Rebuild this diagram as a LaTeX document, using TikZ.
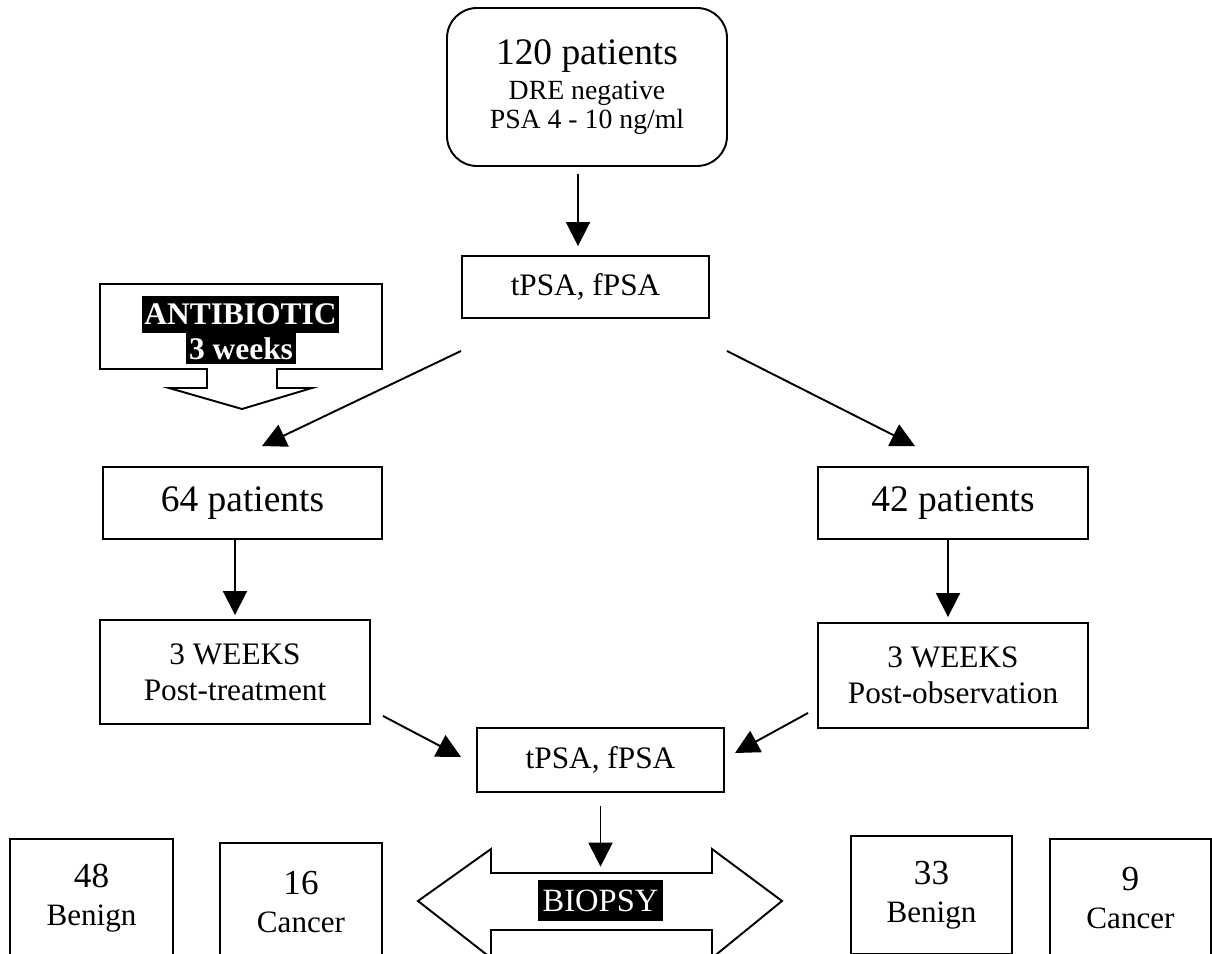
\documentclass[tikz,border=0pt]{standalone}
\usepackage{fontspec}
\setmainfont{Liberation Serif}
\usepackage{tikz}
\usetikzlibrary{arrows.meta}

\begin{document}
\begin{tikzpicture}[
    box/.style={draw,line width=1.1pt,align=center,inner sep=2pt},
    arr/.style={-{Triangle[length=0.48cm,width=0.48cm]},line width=1.1pt},
    hl/.style={fill=black,text=white,inner ysep=0pt,inner xsep=1.5pt},
    big/.style={font={\fontsize{21.3}{24}\selectfont}},
    mid/.style={font={\fontsize{17.8}{20.4}\selectfont}},
    res/.style={box,minimum height=2.36cm,font={\fontsize{17.7}{21.5}\selectfont}}]
              \useasboundingbox (0,0) rectangle (24.24,-19.08);
              \clip (0,0) rectangle (24.24,-19.08);
              \node[box,rounded corners=0.6cm,minimum width=5.6cm,minimum height=3.16cm,font={\fontsize{15.8}{16.4}\selectfont}](top)at(11.74,-1.74){{\fontsize{21.3}{24}\selectfont 120 patients}\\[4pt]DRE negative\\PSA 4 - 10 ng/ml};
              \node[box,mid,minimum width=4.94cm,minimum height=1.24cm](tpsa1)at(11.71,-5.74){tPSA, fPSA};
              \draw[line width=1.1pt] (2.00,-5.68) -- (7.64,-5.68) -- (7.64,-7.38) -- (5.54,-7.38) -- (5.54,-7.76) -- (6.24,-7.76) -- (4.84,-8.18) -- (3.38,-7.76) -- (4.14,-7.76) -- (4.14,-7.38) -- (2.00,-7.38) -- cycle;
              \node[hl,minimum height=0.74cm,font={\bfseries\fontsize{17.9}{20}\selectfont}](anti1)at(4.81,-6.29){ANTIBIOTIC};
              \node[hl,minimum height=0.62cm,font={\bfseries\fontsize{17.9}{20}\selectfont}](anti2)at(4.82,-6.97){3 weeks};
              \node[box,big,minimum width=5.58cm,minimum height=1.44cm](pat64)at(4.85,-10.06){64 patients};
              \node[box,big,minimum width=5.4cm,minimum height=1.44cm](pat42)at(19.06,-10.06){42 patients};
              \node[box,mid,minimum width=5.4cm,minimum height=2.08cm](posttr)at(4.70,-13.44){3 WEEKS\\Post-treatment};
              \node[box,mid,minimum width=5.4cm,minimum height=2.10cm](postobs)at(19.06,-13.51){3 WEEKS\\Post-observation};
              \node[box,mid,minimum width=4.94cm,minimum height=1.28cm](tpsa2)at(12.01,-15.2){tPSA, fPSA};
              \draw[line width=1.1pt] (8.36,-18.02) -- (9.82,-16.98) -- (9.82,-17.46) -- (14.24,-17.46) -- (14.24,-16.98) -- (15.64,-18.02) -- (14.24,-19.16) -- (14.24,-18.60) -- (9.82,-18.60) -- (9.82,-19.16) -- cycle;
              \node[hl,minimum width=2.5cm,minimum height=0.82cm,font={\fontsize{18.5}{20}\selectfont}](bio)at(12.01,-18.01){BIOPSY};
              \node[res,minimum width=3.26cm](ben48)at(1.83,-17.96){{\fontsize{20}{21.5}\selectfont 48}\\Benign};
              \node[res,minimum width=3.24cm](can16)at(6.02,-18.04){{\fontsize{20}{21.5}\selectfont 16}\\Cancer};
              \node[res,minimum width=3.22cm](ben33)at(18.63,-17.90){{\fontsize{20}{21.5}\selectfont 33}\\Benign};
              \node[res,minimum width=3.22cm](can9)at(22.61,-17.96){{\fontsize{20}{21.5}\selectfont 9}\\Cancer};
              \draw[arr]([xshift=-0.18cm,yshift=-0.14cm]top.south)--([xshift=-0.15cm,yshift=0.18cm]tpsa1.north);
              \draw[arr]([yshift=-0.64cm]tpsa1.south west)--([shift={(0.39,0.4)}]pat64.north);
              \draw[arr]([shift={(0.34,-0.64)}]tpsa1.south east)--([shift={(-0.76,0.4)}]pat42.north);
              \draw[arr](pat64.south -| posttr.north)--([yshift=0.08cm]posttr.north);
              \draw[arr]([xshift=-0.1cm]pat42.south)--([xshift=-0.1cm,yshift=0.1cm]postobs.north);
              \draw[arr]([shift={(0.24,0.18)}]posttr.south east)--([shift={(-0.3,0.06)}]tpsa2.west);
              \draw[arr]([shift={(-0.18,0.32)}]postobs.south west)--([shift={(0.2,0.14)}]tpsa2.east);
              \draw[arr]([yshift=-0.26cm]tpsa2.south)--([yshift=0.26cm]bio.north);
            \end{tikzpicture}
\end{document}
